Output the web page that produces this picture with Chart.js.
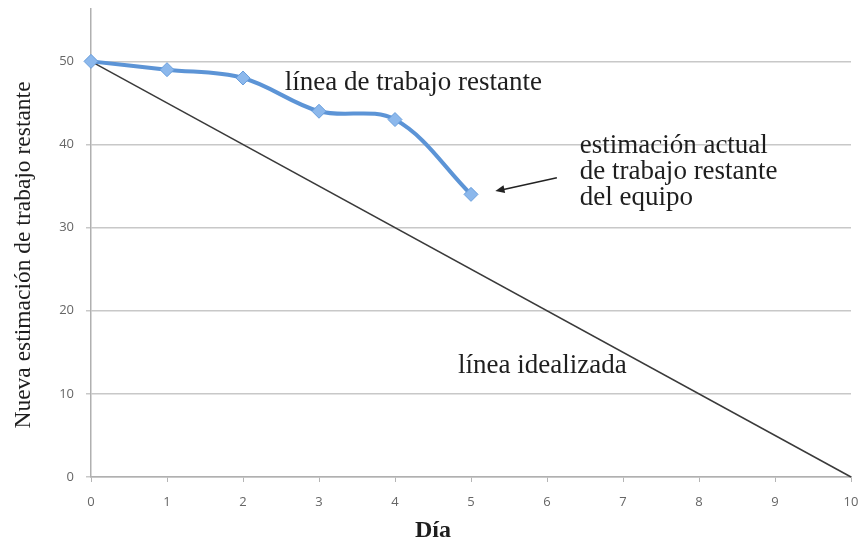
<!DOCTYPE html>
<html>
<head>
<meta charset="utf-8">
<script src="https://cdn.jsdelivr.net/npm/chart.js@4.4.1/dist/chart.umd.min.js"></script>
<style>
  html, body { margin: 0; padding: 0; background: #fff; }
  #wrap { width: 865px; height: 540px; }
</style>
</head>
<body>
<div id="wrap"><canvas id="burndown" width="865" height="540"></canvas></div>
<script>
// data
const days = [0, 1, 2, 3, 4, 5];
const remaining = [50, 49, 48, 44, 43, 34];
const idealDays = [0, 10];
const idealValues = [50, 0];
const yTickValues = [0, 10, 20, 30, 40, 50];

const xTitle = 'Día';
const yTitle = 'Nueva estimación de trabajo restante';
// x,y in data units = left end / baseline of first line
const notes = [
    { x: 2.55, y: 46.6, lines: ['línea de trabajo restante'] },
    { x: 6.43, y: 39.0, lines: ['estimación actual', 'de trabajo restante', 'del equipo'] },
    { x: 4.83, y: 12.5, lines: ['línea idealizada'] }
];

const serif = '"Liberation Serif", "DejaVu Serif", serif';

// text + arrow drawn over the plot
const notesPlugin = {
    id: 'notes',
    afterDatasetsDraw(chart) {
        const c = chart.ctx;
        const xs = chart.scales.x, ys = chart.scales.y;
        c.save();
        c.fillStyle = '#1e1e1e';
        c.font = '27px ' + serif;
        c.textBaseline = 'alphabetic';
        c.textAlign = 'left';
        notes.forEach(n => {
            n.lines.forEach((t, i) => {
                c.fillText(t, xs.getPixelForValue(n.x), ys.getPixelForValue(n.y) + i * 26);
            });
        });

        // arrow pointing at the last estimate
        const x1 = xs.getPixelForValue(6.13), y1 = ys.getPixelForValue(36.0);
        const x2 = xs.getPixelForValue(5.32), y2 = ys.getPixelForValue(34.4);
        c.strokeStyle = '#222';
        c.lineWidth = 1.5;
        c.beginPath();
        c.moveTo(x1, y1);
        c.lineTo(x2 + 6, y2 - 1);
        c.stroke();
        const ang = Math.atan2(y2 - y1, x2 - x1);
        c.beginPath();
        c.moveTo(x2, y2);
        c.lineTo(x2 - 10 * Math.cos(ang - 0.4), y2 - 10 * Math.sin(ang - 0.4));
        c.lineTo(x2 - 10 * Math.cos(ang + 0.4), y2 - 10 * Math.sin(ang + 0.4));
        c.closePath();
        c.fillStyle = '#222';
        c.fill();

        // axis titles
        c.fillStyle = '#1e1e1e';
        c.textAlign = 'center';
        c.font = 'bold 24px ' + serif;
        c.fillText(xTitle, 433, 537);
        c.font = '23.5px ' + serif;
        c.textBaseline = 'middle';
        c.translate(24, 255);
        c.rotate(-Math.PI / 2);
        c.fillText(yTitle, 0, 0);
        c.restore();
    }
};

new Chart(document.getElementById('burndown').getContext('2d'), {
    type: 'line',
    data: {
        datasets: [{
            label: 'restante',
            data: days.map((d, i) => ({ x: d, y: remaining[i] })),
            borderColor: 'rgb(92, 148, 214)',
            borderWidth: 4,
            backgroundColor: 'rgb(140, 184, 236)',
            pointStyle: 'rectRot',
            pointRadius: 7,
            pointBorderColor: 'rgb(105, 158, 220)',
            pointBorderWidth: 1,
            tension: 0.35,
            clip: false
        }, {
            label: 'ideal',
            data: idealDays.map((d, i) => ({ x: d, y: idealValues[i] })),
            borderColor: '#3a3a3a',
            borderWidth: 1.5,
            pointRadius: 0,
            tension: 0,
            clip: false
        }]
    },
    options: {
        responsive: false,
        animation: false,
        layout: { padding: { top: 9, right: 14, left: 0, bottom: 0 } },
        plugins: {
            legend: { display: false },
            tooltip: { enabled: false }
        },
        scales: {
            x: {
                type: 'linear',
                min: 0,
                max: 10,
                afterFit: s => {
                    s.height = 63;
                    s.paddingLeft = 0;
                    s.paddingRight = 0;
                },
                ticks: {
                    stepSize: 1,
                    color: '#666',
                    font: { family: '"Open Sans"', size: 13 },
                    padding: 12
                },
                grid: {
                    drawOnChartArea: false,
                    drawTicks: true,
                    tickLength: 5,
                    color: '#b5b5b5'
                },
                border: { color: '#b0b0b0', width: 1.5 }
            },
            y: {
                min: 0,
                max: 56.3,
                afterFit: s => {
                    s.width = 91;
                    s.paddingTop = 0;
                    s.paddingBottom = 0;
                },
                afterBuildTicks: s => { s.ticks = yTickValues.map(v => ({ value: v })); },
                ticks: {
                    color: '#666',
                    font: { family: '"Open Sans"', size: 13 },
                    padding: 12
                },
                grid: {
                    color: '#c8c8c8',
                    lineWidth: 1.5,
                    tickLength: 5
                },
                border: { color: '#b0b0b0', width: 1.5 }
            }
        }
    },
    plugins: [notesPlugin]
});
</script>
</body>
</html>
